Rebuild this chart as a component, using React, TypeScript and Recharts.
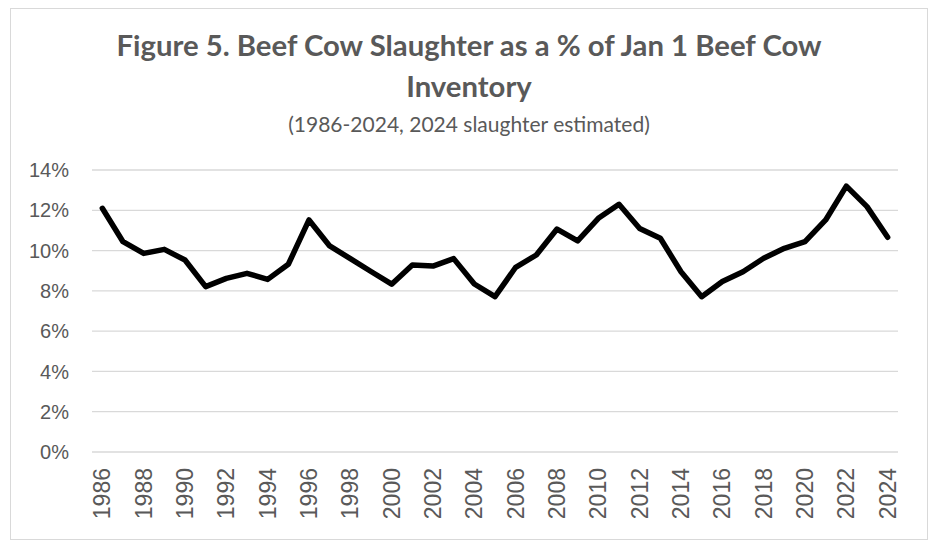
import { CartesianGrid, Line, LineChart, XAxis, YAxis } from "recharts"

const YEARS = [
  "1986", "1987", "1988", "1989", "1990", "1991", "1992", "1993", "1994", "1995",
  "1996", "1997", "1998", "1999", "2000", "2001", "2002", "2003", "2004", "2005",
  "2006", "2007", "2008", "2009", "2010", "2011", "2012", "2013", "2014", "2015",
  "2016", "2017", "2018", "2019", "2020", "2021", "2022", "2023", "2024",
]

// slaughter as % of Jan 1 beef cow inventory
const SLAUGHTER_PCT = [
  12.1, 10.44, 9.86, 10.06, 9.53, 8.21, 8.62, 8.87, 8.57, 9.32,
  11.52, 10.23, 9.6, 8.96, 8.33, 9.28, 9.23, 9.6, 8.34, 7.71,
  9.17, 9.78, 11.07, 10.48, 11.6, 12.3, 11.1, 10.61, 8.95, 7.71,
  8.46, 8.95, 9.62, 10.11, 10.44, 11.52, 13.2, 12.18, 10.66,
]

const Y_TICKS = [0, 2, 4, 6, 8, 10, 12, 14]

const TITLE = "Figure 5. Beef Cow Slaughter as a % of Jan 1 Beef Cow"
const TITLE_2 = "Inventory"
const SUBTITLE = "(1986-2024, 2024 slaughter estimated)"

const TEXT = "#595959"
const GRID = "#d9d9d9"
const TICK_FONT = "'Liberation Sans', Arial, sans-serif"
const TITLE_FONT = "Lato, 'Open Sans', sans-serif"

const data = YEARS.map((year, i) => ({ year, pct: SLAUGHTER_PCT[i] }))

function YearTick(props: any) {
  const { x, y, payload } = props
  return (
    <text
      x={x}
      y={y}
      transform={`rotate(-90, ${x}, ${y})`}
      textAnchor="end"
      dominantBaseline="central"
      fill={TEXT}
      fontSize={23}
      fontFamily={TICK_FONT}
    >
      {payload.value}
    </text>
  )
}

export default function App() {
  return (
    <div
      style={{
        position: "absolute",
        left: 0,
        top: 0,
        width: 928,
        height: 540,
        background: "#fff",
        overflow: "hidden",
      }}
    >
      <div
        style={{
          position: "absolute",
          left: 10,
          top: 8,
          width: 916,
          height: 530,
          border: `1px solid ${GRID}`,
        }}
      />
      <div
        style={{
          position: "absolute",
          left: 0,
          top: 24,
          width: 938,
          textAlign: "center",
          color: TEXT,
          fontFamily: TITLE_FONT,
        }}
      >
        <div style={{ fontSize: 29.3, fontWeight: 700, lineHeight: "41px" }}>{TITLE}</div>
        <div style={{ fontSize: 29.3, fontWeight: 700, lineHeight: "41px" }}>{TITLE_2}</div>
        <div style={{ fontSize: 21, lineHeight: "36px", marginTop: 0 }}>{SUBTITLE}</div>
      </div>
      <div style={{ position: "absolute", left: 0, top: 0 }}>
        <LineChart
          width={928}
          height={540}
          data={data}
          margin={{ top: 170, right: 30, bottom: 8, left: 32 }}
        >
          <CartesianGrid stroke={GRID} strokeWidth={1.3} vertical={false} />
          <XAxis
            dataKey="year"
            interval={1}
            height={80}
            padding={{ left: 10.33, right: 10.33 }}
            axisLine={false}
            tickLine={false}
            tickSize={0}
            tickMargin={16}
            tick={<YearTick />}
          />
          <YAxis
            domain={[0, 14]}
            ticks={Y_TICKS}
            width={60}
            axisLine={false}
            tickLine={false}
            tickSize={0}
            tickMargin={23}
            tickFormatter={(v) => `${v}%`}
            tick={{ fill: TEXT, fontSize: 20, fontFamily: TICK_FONT }}
          />
          <Line
            type="linear"
            dataKey="pct"
            stroke="#000"
            strokeWidth={5.5}
            strokeLinejoin="round"
            strokeLinecap="round"
            dot={false}
            activeDot={false}
            isAnimationActive={false}
          />
        </LineChart>
      </div>
    </div>
  )
}
